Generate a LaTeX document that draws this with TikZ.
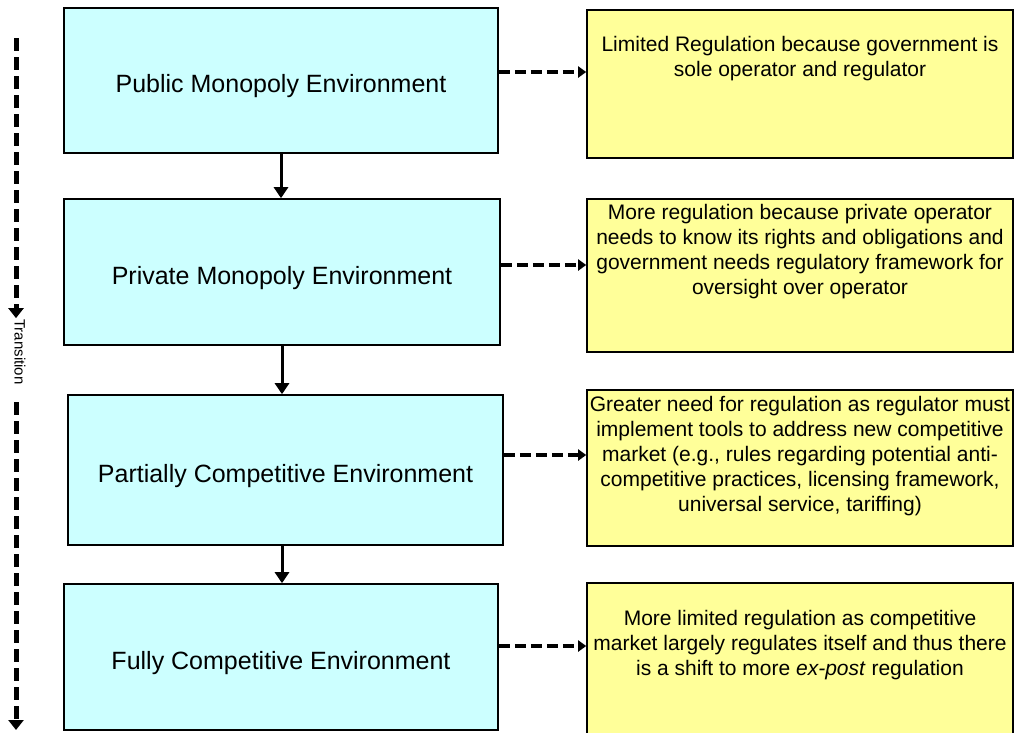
\documentclass[tikz,border=0pt]{standalone}
\usepackage{fontspec}
\setmainfont{Liberation Sans}
\usetikzlibrary{arrows.meta}
\definecolor{envblue}{HTML}{CCFFFF}
\definecolor{regyellow}{HTML}{FFFF99}
% lower a stage title a little below the box centre
\newcommand{\dropped}[1]{\raisebox{-6pt}[\height][\depth]{#1}}
\begin{document}
\begin{tikzpicture}[x=1pt,y=-1pt,
  envbox/.style={draw=black, line width=1.6pt, fill=envblue, rectangle,
    inner sep=0pt, font=\fontsize{25}{29}\selectfont},
  regbox/.style={draw=black, line width=1.6pt, fill=regyellow, rectangle, inner sep=0pt},
  regtext/.style={align=center, inner sep=0pt, font=\fontsize{21}{25}\selectfont},
  flowarrow/.style={line width=3pt, -{Triangle[length=11pt,width=14pt]}},
  linkarrow/.style={line width=3.4pt, dash pattern=on 11pt off 5pt,
    -{Triangle[length=8pt,width=11pt]}},
  timearrow/.style={line width=5pt, dash pattern=on 13pt off 6pt,
    -{Triangle[length=10pt,width=15pt]}}]
\useasboundingbox (0,0) rectangle (1015,732);

% environment stages
\node[envbox, minimum width=434pt, minimum height=145pt] (b1) at (281,80.5)
  {\dropped{Public Monopoly Environment}};
\node[envbox, minimum width=436pt, minimum height=146pt] (b2) at (282,272)
  {\dropped{Private Monopoly Environment}};
\node[envbox, minimum width=435pt, minimum height=150pt] (b3) at (285.5,470)
  {\dropped{Partially Competitive Environment}};
\node[envbox, minimum width=434pt, minimum height=146pt] (b4) at (281,657)
  {\dropped{Fully Competitive Environment}};

% regulation notes
\node[regbox, minimum width=426pt, minimum height=148pt] (y1) at (800,84) {};
\node[regbox, minimum width=426pt, minimum height=153pt] (y2) at (800,275.5) {};
\node[regbox, minimum width=426pt, minimum height=156pt] (y3) at (800,468) {};
\node[regbox, minimum width=426pt, minimum height=156pt] (y4) at (800,661) {};

\node[regtext] (t1) at (800,59)
  {Limited Regulation because government is\\ sole operator and regulator};
\node[regtext] (t2) at (800,252)
  {More regulation because private operator\\ needs to know its rights and obligations and\\
   government needs regulatory framework for\\ oversight over operator};
\node[regtext] (t3) at (800,456)
  {Greater need for regulation as regulator must\\ implement tools to address new competitive\\
   market (e.g., rules regarding potential anti-\\ competitive practices, licensing framework,\\
   universal service, tariffing)};
\node[regtext] (t4) at (800,645)
  {More limited regulation as competitive\\ market largely regulates itself and thus there\\
   is a shift to more \textit{ex-post} regulation};

% progression between stages
\draw[flowarrow] (b1.south) -- (b1.south |- b2.north);
\draw[flowarrow] (b2.south) -- (b2.south |- b3.north);
\draw[flowarrow] (b2.south |- b3.south) -- (b2.south |- b4.north);

% links from each stage to its regulation note
\draw[linkarrow] (b1.east |- 0,72) -- (y1.west |- 0,72);
\draw[linkarrow] (b2.east |- 0,265) -- (y2.west |- 0,265);
\draw[linkarrow] (b3.east |- 0,455) -- (y3.west |- 0,455);
\draw[linkarrow] (b4.east |- 0,646) -- (y4.west |- 0,646);

% transition axis
\coordinate (a1) at (16,38);
\coordinate (a2) at (16,402);
\coordinate (a3) at (16,730);
\node[rotate=-90, inner sep=1pt, font=\fontsize{15}{18}\selectfont] (tr) at (20,352) {Transition};
\draw[timearrow] (a1) -- (a1 |- tr.west);
\draw[timearrow] (a2) -- (a3);
\end{tikzpicture}
\end{document}
